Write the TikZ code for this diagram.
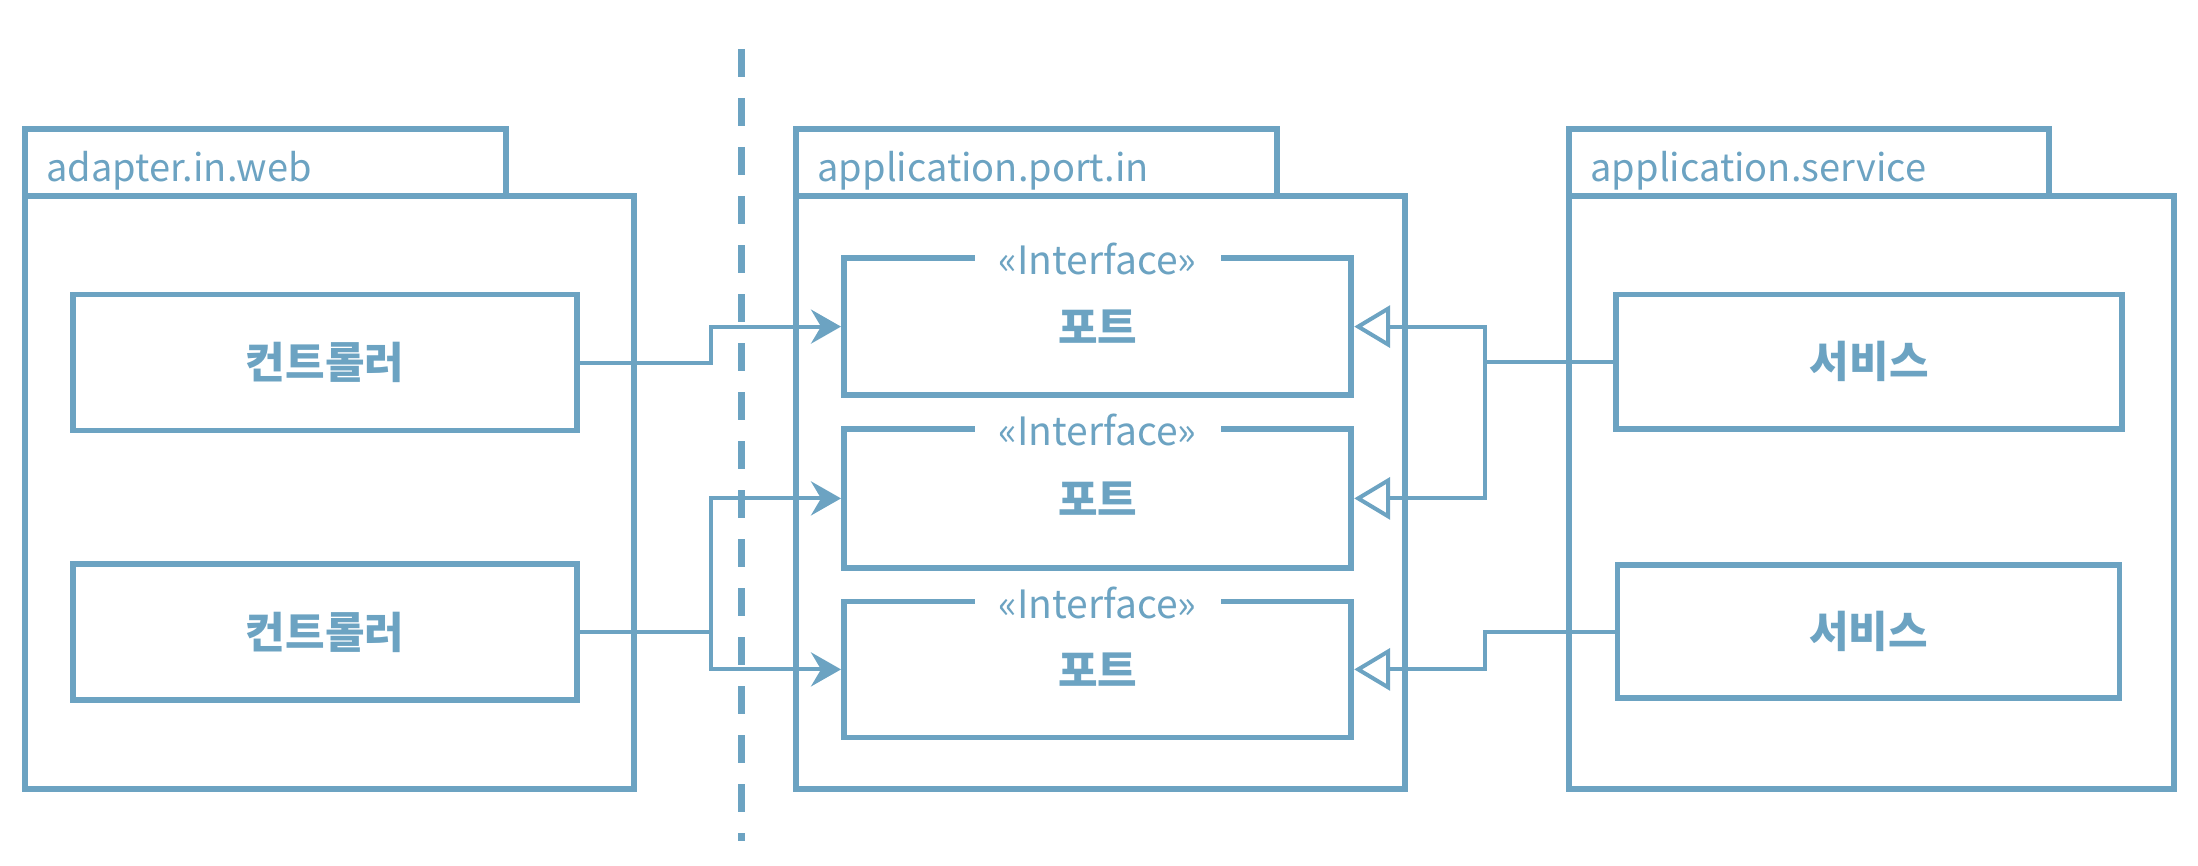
\documentclass[tikz,border=0pt]{standalone}
\usepackage{fontspec}
\setmainfont{Noto Sans CJK KR}
\newfontfamily\krfont{Noto Sans CJK KR}
\usetikzlibrary{arrows.meta}
\definecolor{ln}{HTML}{6CA3C2}
\begin{document}
\begin{tikzpicture}[x=0.5pt,y=-0.5pt,
  bx/.style 2 args={draw=ln,line width=2.9pt,rectangle,inner sep=0pt,
     minimum width=#1,minimum height=#2,text=ln},
  tablabel/.style={text=ln,inner sep=0pt,anchor=west,font=\fontsize{19}{22}\selectfont},
  iflabel/.style={text=ln,fill=white,inner xsep=12pt,inner ysep=0pt,font=\fontsize{19.5}{22}\selectfont},
  kr/.style={font=\krfont\bfseries\fontsize{21.5}{25}\selectfont},
  conn/.style={draw=ln,line width=2pt},
  callarrow/.style={conn,-{Stealth[length=15pt,width=17pt,inset=5pt]}},
  realize/.style={conn,-{Triangle[open,length=18pt,width=21pt]}},
  divider/.style={draw=ln,line width=3.2pt,dash pattern=on 14pt off 10.5pt}
]
\useasboundingbox (0,0) rectangle (2198,866);

% packages
\node[bx={304.5pt}{296.5pt}] (pk1) at (329.5,492.5) {};
\node[bx={240.5pt}{33.5pt}] (t1) at (265.5,162.5) {};
\node[tablabel] (t1l) at ([xshift=12pt,yshift=-4pt]t1.west) {adapter.in.web};

\node[bx={304.5pt}{296.5pt}] (pk2) at (1100.5,492.5) {};
\node[bx={240.5pt}{33.5pt}] (t2) at (1036.5,162.5) {};
\node[tablabel] (t2l) at ([xshift=12pt,yshift=-4pt]t2.west) {application.port.in};

\node[bx={302.5pt}{296.5pt}] (pk3) at (1871.5,492.5) {};
\node[bx={240pt}{33.5pt}] (t3) at (1809,162.5) {};
\node[tablabel] (t3l) at ([xshift=12pt,yshift=-4pt]t3.west) {application.service};

% divider
\coordinate (dtop) at (741.6,49);
\coordinate (dbot) at (741.6,841);
\draw[divider] (dtop) -- (dbot);

% controllers
\node[bx={252.3pt}{68pt},kr] (c1) at (325,362.5) {컨트롤러};
\node[bx={252.3pt}{68pt},kr] (c2) at (325,632) {컨트롤러};

% ports
\node[bx={253.7pt}{68.7pt},kr] (p1) at (1097.6,326.6) {포트};
\node[bx={253.7pt}{69.3pt},kr] (p2) at (1097.6,498.4) {포트};
\node[bx={253.7pt}{68pt},kr] (p3) at (1097.6,669.4) {포트};
\node[iflabel] (i1) at ([yshift=-2pt]p1.north) {«Interface»};
\node[iflabel] (i2) at ([yshift=-2pt]p2.north) {«Interface»};
\node[iflabel] (i3) at ([yshift=-2pt]p3.north) {«Interface»};

% services
\node[bx={253pt}{67.3pt},kr] (s1) at (1869.3,361.7) {서비스};
\node[bx={251pt}{66.5pt},kr] (s2) at (1868.5,631.5) {서비스};

% junction columns
\coordinate (jL) at (710.7,0);
\coordinate (jR) at (1484.5,0);

% controller -> port
\draw[callarrow] (c1.east) -- (c1.east -| jL) |- (p1.west);
\draw[callarrow] (c2.east) -- (c2.east -| jL) |- (p2.west);
\draw[callarrow] (c2.east -| jL) |- (p3.west);

% service -> port (realization)
\draw[realize] (s1.west) -- (s1.west -| jR) |- (p1.east);
\draw[realize] (s1.west -| jR) |- (p2.east);
\draw[realize] (s2.west) -- (s2.west -| jR) |- (p3.east);
\end{tikzpicture}
\end{document}
